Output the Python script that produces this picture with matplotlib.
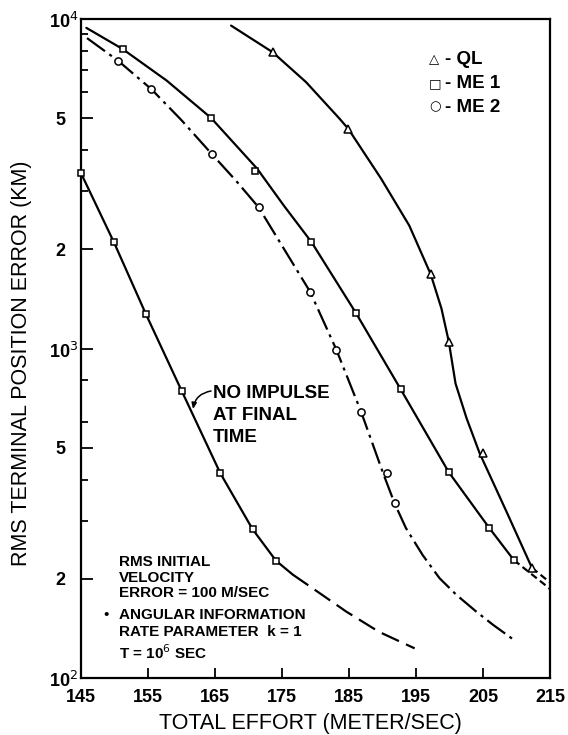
import matplotlib
matplotlib.use("Agg")
import matplotlib.pyplot as plt
from matplotlib import transforms

plt.rcParams['font.family'] = ['Liberation Sans', 'DejaVu Sans']

# ---------------- data ----------------
# QL (triangles)
ql_x = [173.6, 184.9, 197.2, 199.9, 205.0, 212.3]
ql_y = [7930, 4640, 1679, 1048, 481, 216]
ql_curve_x = [167.4, 173.6, 178.6, 183.6, 184.9, 189.8, 194.0, 197.2, 198.8, 199.9,
              200.9, 202.55, 204.5, 208.5, 212.3]
ql_curve_y = [9550, 7930, 6430, 4980, 4640, 3275, 2360, 1679, 1322, 1048,
              783, 614, 481, 320, 216]
ql_tail_x = [212.3, 215.0]
ql_tail_y = [216, 195]

# ME 1 (squares)
me1_x = [151.2, 164.4, 170.9, 179.4, 186.0, 192.7, 199.9, 205.9, 209.6]
me1_y = [8110, 5012, 3460, 2104, 1285, 753, 421, 286, 228]
me1_curve_x = [145.8, 151.2, 157.8, 164.4, 171.3, 175.3, 179.4, 186.0, 192.7, 199.9, 205.9, 209.6]
me1_curve_y = [9400, 8110, 6500, 5012, 3512, 2710, 2104, 1285, 753, 421, 286, 228]
me1_tail_x = [209.6, 214.5, 215.0]
me1_tail_y = [228, 190, 186]

# ME 2 (circles)
me2_x = [150.5, 155.5, 164.5, 171.5, 179.2, 183.1, 186.8, 190.6, 191.8]
me2_y = [7480, 6125, 3897, 2684, 1486, 993, 643, 418, 339]
me2_curve_x = [145.9, 150.5, 155.5, 159.95, 164.5, 168.1, 171.5, 179.2, 183.1,
               186.8, 190.1, 191.8, 193.5, 196.0, 198.5, 201.0, 204.0, 206.5, 209.5]
me2_curve_y = [8750, 7480, 6125, 4943, 3897, 3236, 2684, 1486, 993,
               643, 418, 339, 285, 236, 201, 179, 159, 145, 131]

# No impulse at final time (squares)
noimp_x = [145.0, 149.9, 154.7, 160.05, 165.8, 170.6, 174.1]
noimp_y = [3405, 2104, 1270, 742, 418, 283, 227]
noimp_curve_x = [145.0, 149.9, 154.7, 160.05, 165.8, 170.6, 174.1, 176.6]
noimp_curve_y = [3405, 2104, 1270, 742, 418, 283, 227, 206]
noimp_tail_x = [176.6, 179.6, 184.6, 189.5, 194.8]
noimp_tail_y = [206, 187, 159, 138, 123]

x_ticks = [145, 155, 165, 175, 185, 195, 205, 215]
x_ticklabels = ['145', '155', '165', '175', '185', '195', '205', '215']
y_labeled = [200, 500, 2000, 5000]
y_labeled_text = ['2', '5', '2', '5']
y_decades = [100, 1000, 10000]
y_decade_text = ['10$^2$', '10$^3$', '10$^4$']
y_minor = [300, 400, 600, 800, 3000, 4000, 6000, 7000, 8000, 9000]

# ---------------- figure ----------------
W, H = 568, 735
fig = plt.figure(figsize=(W / 100, H / 100), dpi=100)
L, R, T, B = 81, 550, 19, 678
ax = fig.add_axes([L / W, 1 - B / H, (R - L) / W, (B - T) / H])
ax.set_yscale('log')
ax.set_xlim(145, 215)
ax.set_ylim(100, 10000)


def ax_x(px):
    return (px - L) / (R - L)


def ax_y(py):
    return (B - py) / (B - T)


lw = 1.6
line_kw = dict(color='black', lw=lw, solid_joinstyle='round', solid_capstyle='round')
mk = dict(markerfacecolor='white', markeredgecolor='black', markeredgewidth=1.1,
          linestyle='none', zorder=5)

# QL
ax.plot(ql_curve_x, ql_curve_y, **line_kw)
ax.plot(ql_tail_x, ql_tail_y, color='black', lw=lw, dashes=(3.2, 1.8))
ax.plot(ql_x, ql_y, marker='^', markersize=5.8, **mk)

# ME1
ax.plot(me1_curve_x, me1_curve_y, **line_kw)
ax.plot(me1_tail_x, me1_tail_y, color='black', lw=lw, dashes=(3.2, 1.8))
ax.plot(me1_x, me1_y, marker='s', markersize=5, **mk)

# ME2
ax.plot(me2_curve_x, me2_curve_y, color='black', lw=lw, dashes=(10, 2.4, 1.4, 2.4),
        dash_joinstyle='round')
ax.plot(me2_x, me2_y, marker='o', markersize=5.2, **mk)

# No impulse
ax.plot(noimp_curve_x, noimp_curve_y, **line_kw)
ax.plot(noimp_tail_x, noimp_tail_y, color='black', lw=lw, dashes=(8.5, 3.5))
ax.plot(noimp_x, noimp_y, marker='s', markersize=5, clip_on=False, **mk)

# axes styling
for s in ax.spines.values():
    s.set_linewidth(1.6)

ax.set_xticks(x_ticks)
ax.set_xticklabels(x_ticklabels, fontweight='bold')
ax.set_yticks(y_decades + y_labeled)
ax.set_yticklabels([''] * len(y_decades) + y_labeled_text, fontweight='bold')
ax.set_yticks(y_minor, minor=True)
ax.yaxis.set_minor_formatter(matplotlib.ticker.NullFormatter())
ax.xaxis.set_minor_locator(matplotlib.ticker.NullLocator())
ax.tick_params(axis='x', which='major', direction='in', length=7, width=1.3,
               labelsize=13, pad=8)
ax.tick_params(axis='y', which='major', direction='in', length=8.5, width=1.3,
               labelsize=13, pad=11)
ax.tick_params(axis='y', which='minor', direction='in', length=5, width=1.3)
ax.tick_params(top=False, right=False)

# decade labels (10^n) placed closer to the axis
dec_tr = ax.get_yaxis_transform() + transforms.ScaledTranslation(0, -3 / 100, fig.dpi_scale_trans)
for v, t in zip(y_decades, y_decade_text):
    ax.text(ax_x(78), v, t, transform=dec_tr, ha='right', va='center',
            fontsize=13, fontweight='bold')

# axis labels
fig.text(310 / W, 1 - 723 / H, 'TOTAL EFFORT (METER/SEC)', ha='center', va='center', fontsize=15.5)
fig.text(22 / W, 1 - 363 / H, 'RMS TERMINAL POSITION ERROR (KM)', ha='center', va='center',
         rotation=90, fontsize=15.5)

# legend (as text)
leg_sym = ['\u25b3', '\u25a1', '\u25cb']
leg_txt = ['- QL', '- ME 1', '- ME 2']
leg_rows = [60, 84, 107]
for s, t, py in zip(leg_sym, leg_txt, leg_rows):
    ax.text(ax_x(429), ax_y(py), s, transform=ax.transAxes, fontsize=9.5, va='center', ha='left',
            family=['DejaVu Sans'])
    ax.text(ax_x(445), ax_y(py), t, transform=ax.transAxes, fontsize=13.5, fontweight='bold',
            va='center', ha='left')

# annotation
for t, py in zip(['NO IMPULSE', 'AT FINAL', 'TIME'], [393, 415, 437]):
    ax.text(ax_x(213), ax_y(py), t, transform=ax.transAxes, fontsize=13.5, fontweight='bold',
            va='center', ha='left')
ax.annotate('', xy=(ax_x(193), ax_y(409)), xytext=(ax_x(211), ax_y(391)),
            xycoords='axes fraction', textcoords='axes fraction',
            arrowprops=dict(arrowstyle='-|>,head_length=0.35,head_width=0.15', lw=1.1, color='black',
                            connectionstyle='arc3,rad=0.35', shrinkA=0, shrinkB=0))

# notes
notes = ['RMS INITIAL', 'VELOCITY', 'ERROR = 100 M/SEC', 'ANGULAR INFORMATION',
         'RATE PARAMETER  k = 1', 'T = 10$^6$ SEC']
notes_py = [562, 578, 593, 615, 632, 653]
for t, py in zip(notes, notes_py):
    ax.text(ax_x(119), ax_y(py), t, transform=ax.transAxes, fontsize=11, fontweight='bold',
            va='center', ha='left')
ax.text(ax_x(103), ax_y(615), '\u2022', transform=ax.transAxes, fontsize=11, va='center', ha='left')

fig.savefig('out.png', dpi=100)
